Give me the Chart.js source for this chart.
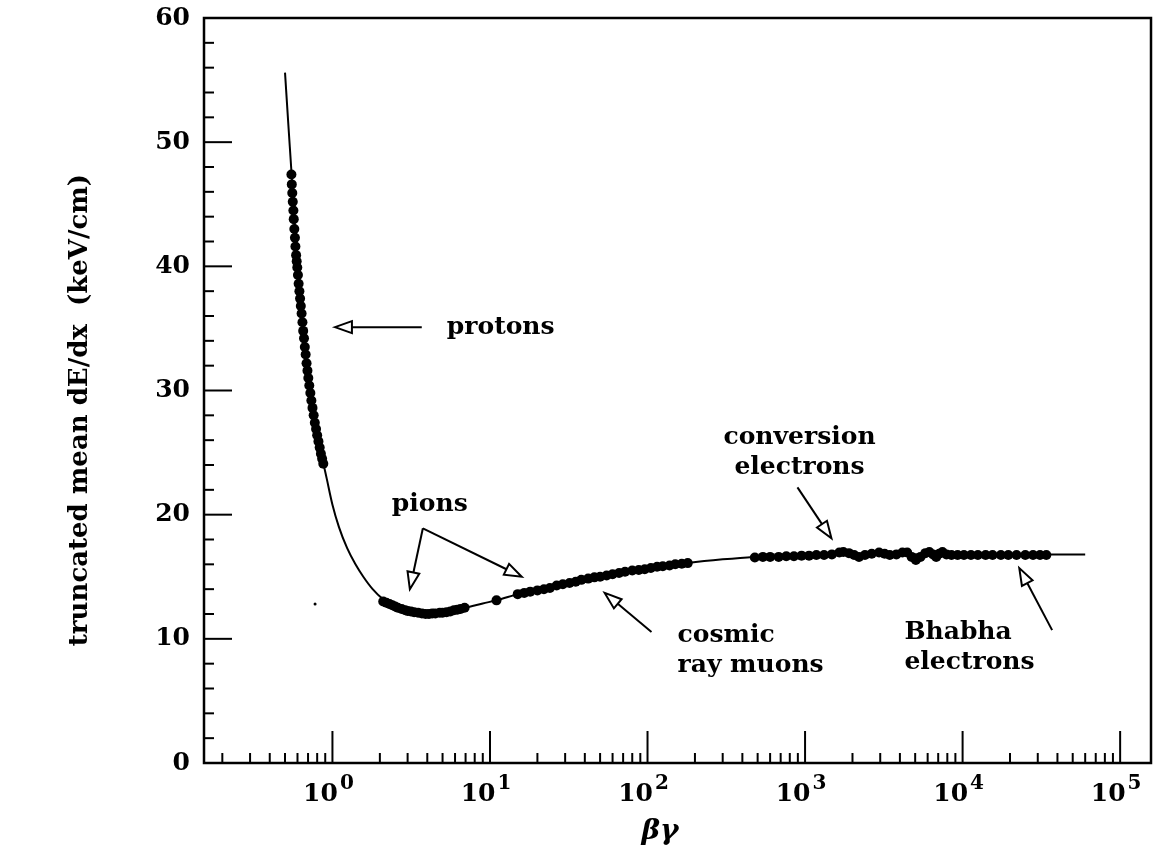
<!DOCTYPE html>
<html>
<head>
<meta charset="utf-8">
<title>truncated mean dE/dx vs βγ</title>
<script src="https://cdn.jsdelivr.net/npm/chart.js@4.4.1/dist/chart.umd.min.js"></script>
<style>
  html, body { margin: 0; padding: 0; background: #fff; }
  #wrap { width: 1156px; height: 857px; }
</style>
</head>
<body>
<div id="wrap"><canvas id="chart" width="1156" height="857"></canvas></div>
<script>
// expected curve, [βγ, dE/dx]
const curve = [
  [0.50, 55.6], [0.525, 51.4], [0.55, 47.5], [0.575, 43.6], [0.60, 40.2], [0.625, 37.3],
  [0.65, 34.9], [0.68, 32.6], [0.71, 30.6], [0.75, 28.6], [0.80, 26.6], [0.85, 24.9],
  [0.92, 22.9], [1.0, 20.8], [1.1, 19.0], [1.24, 17.3], [1.4, 16.0], [1.57, 15.0],
  [1.8, 14.0], [2.09, 13.2], [2.5, 12.6], [3.0, 12.25], [3.6, 12.1], [4.2, 12.05],
  [5.0, 12.15], [6.0, 12.35], [7.0, 12.5], [9.0, 12.85], [11, 13.1], [15, 13.6],
  [25, 14.3], [40, 14.85], [70, 15.4], [100, 15.65], [180, 16.1], [300, 16.4],
  [470, 16.6], [1000, 16.75], [3000, 16.8], [10000, 16.8], [60000, 16.8]
]

// measured points
const protons = [
  [0.549, 47.4], [0.552, 46.6], [0.556, 45.9], [0.56, 45.2], [0.565, 44.5], [0.568, 43.8],
  [0.573, 43.0], [0.578, 42.3], [0.582, 41.6], [0.588, 40.9], [0.593, 40.4], [0.598, 39.9],
  [0.604, 39.3], [0.61, 38.6], [0.617, 38.0], [0.623, 37.4], [0.63, 36.8], [0.637, 36.2],
  [0.645, 35.5], [0.652, 34.8], [0.66, 34.2], [0.668, 33.5], [0.676, 32.9], [0.685, 32.2],
  [0.694, 31.6], [0.703, 31.0], [0.713, 30.4], [0.724, 29.8], [0.735, 29.2], [0.747, 28.6],
  [0.76, 28.0], [0.773, 27.4], [0.787, 26.9], [0.80, 26.4], [0.815, 25.9], [0.83, 25.4],
  [0.845, 24.9], [0.86, 24.5], [0.875, 24.1]
]
const pions = [
  [2.1, 13.0], [2.2, 12.9], [2.3, 12.8], [2.4, 12.7], [2.5, 12.6], [2.6, 12.5], [2.75, 12.4],
  [2.9, 12.3], [3.0, 12.25], [3.15, 12.2], [3.3, 12.15], [3.5, 12.1], [3.7, 12.05], [3.9, 12.0],
  [4.1, 12.0], [4.3, 12.05], [4.5, 12.05], [4.8, 12.1], [5.0, 12.1], [5.3, 12.15], [5.6, 12.2],
  [5.9, 12.3], [6.2, 12.35], [6.5, 12.4], [6.9, 12.5], [11, 13.1]
]
const muons = [
  [15, 13.6], [16.5, 13.7], [18, 13.8], [20, 13.9], [22, 14.0], [24, 14.1], [26.5, 14.3],
  [29, 14.4], [32, 14.5], [35, 14.6], [38, 14.75], [42, 14.85], [46, 14.95], [50, 15.0],
  [55, 15.1], [60, 15.2], [66, 15.3], [72, 15.4], [80, 15.5], [88, 15.55], [96, 15.6],
  [105, 15.7], [115, 15.8], [125, 15.85], [138, 15.9], [150, 16.0], [165, 16.05], [180, 16.1]
]
const electrons = [
  [480, 16.55], [540, 16.6], [600, 16.6], [680, 16.6], [760, 16.65], [850, 16.65], [950, 16.7],
  [1060, 16.7], [1180, 16.75], [1320, 16.75], [1480, 16.8], [1650, 16.95], [1750, 17.0],
  [1900, 16.9], [2050, 16.75], [2200, 16.6], [2400, 16.75], [2650, 16.85], [2950, 16.95],
  [3200, 16.85], [3450, 16.75], [3800, 16.8], [4150, 16.95], [4450, 16.95], [4750, 16.6],
  [5050, 16.35], [5400, 16.6], [5800, 16.9], [6150, 17.0], [6500, 16.8], [6800, 16.6],
  [7100, 16.85], [7450, 17.0], [7900, 16.8], [8500, 16.75], [9300, 16.75], [10200, 16.75],
  [11300, 16.75], [12500, 16.75], [14000, 16.75], [15500, 16.75], [17500, 16.75],
  [19500, 16.75], [22000, 16.75], [25000, 16.75], [28000, 16.75], [31000, 16.75], [34000, 16.75]
]
// lone small point left of the minimum
const stray = [[0.776, 12.8]]

// axes
const xMin = 0.153, xMax = 157000
const yMin = 0, yMax = 60
const yTicks = [0, 10, 20, 30, 40, 50, 60]
const yMinorStep = 2
const xTickExps = [0, 1, 2, 3, 4, 5]
const xTitle = 'βγ'
const yTitle = 'truncated mean dE/dx  (keV/cm)'

// labels and arrows, in data coordinates
const notes = [
  { lines: ['protons'], at: [5.32, 35.1], align: 'left' },
  { lines: ['pions'], at: [4.15, 20.8], align: 'center' },
  { lines: ['cosmic', 'ray muons'], at: [155, 10.3], align: 'left' },
  { lines: ['conversion', 'electrons'], at: [922, 26.2], align: 'center' },
  { lines: ['Bhabha', 'electrons'], at: [4270, 10.5], align: 'left' }
]
const arrows = [
  { from: [3.69, 35.1], to: [1.037, 35.1] },
  { from: [3.75, 18.9], to: [3.1, 14.0] },
  { from: [3.75, 18.9], to: [15.9, 15.0] },
  { from: [106, 10.55], to: [53.5, 13.7] },
  { from: [895, 22.2], to: [1470, 18.1] },
  { from: [37000, 10.7], to: [22900, 15.7] }
]

const toXY = arr => arr.map(p => ({ x: p[0], y: p[1] }))
const SERIF = '"DejaVu Serif", "Liberation Serif", serif'

function drawArrow(ctx, x1, y1, x2, y2){
  const ang = Math.atan2(y2 - y1, x2 - x1)
  const L = 17, W = 6
  const bx = x2 - L * Math.cos(ang), by = y2 - L * Math.sin(ang)
  ctx.beginPath(); ctx.moveTo(x1, y1); ctx.lineTo(bx, by); ctx.stroke()
  ctx.beginPath()
  ctx.moveTo(x2, y2)
  ctx.lineTo(bx + W * Math.sin(ang), by - W * Math.cos(ang))
  ctx.lineTo(bx - W * Math.sin(ang), by + W * Math.cos(ang))
  ctx.closePath()
  ctx.fillStyle = '#fff'; ctx.fill(); ctx.stroke()
  ctx.fillStyle = '#000'
}

// frame, inward ticks, tick labels, titles and annotations
const framePlugin = {
  id: 'frame',
  afterDatasetsDraw(chart){
    const { ctx, chartArea: a, scales: { x, y } } = chart
    ctx.save()
    ctx.strokeStyle = '#000'; ctx.fillStyle = '#000'
    ctx.lineWidth = 2.5
    ctx.strokeRect(a.left, a.top, a.right - a.left, a.bottom - a.top)

    // y ticks
    ctx.lineWidth = 2
    for(let v = yMin; v <= yMax; v += yMinorStep){
      const py = y.getPixelForValue(v)
      const len = yTicks.includes(v) ? 28 : 10
      ctx.beginPath(); ctx.moveTo(a.left, py); ctx.lineTo(a.left + len, py); ctx.stroke()
    }
    ctx.font = 'bold 25px ' + SERIF
    ctx.textAlign = 'right'; ctx.textBaseline = 'middle'
    yTicks.forEach(v => ctx.fillText(String(v), a.left - 14, y.getPixelForValue(v)))

    // x ticks (log)
    for(let e = -1; e <= 5; e++){
      for(let m = 1; m <= 9; m++){
        const v = m * Math.pow(10, e)
        if(v < xMin || v > xMax) continue
        const px = x.getPixelForValue(v)
        const len = m === 1 ? 32 : 10
        ctx.beginPath(); ctx.moveTo(px, a.bottom); ctx.lineTo(px, a.bottom - len); ctx.stroke()
      }
    }
    const baseFont = 'bold 25px ' + SERIF, supFont = 'bold 20px ' + SERIF
    ctx.textBaseline = 'alphabetic'; ctx.textAlign = 'left'
    xTickExps.forEach(e => {
      const px = x.getPixelForValue(Math.pow(10, e))
      ctx.font = baseFont; const wb = ctx.measureText('10').width
      ctx.font = supFont; const ws = ctx.measureText(String(e)).width
      const x0 = px - (wb + ws + 2) / 2 - 4
      ctx.font = baseFont; ctx.fillText('10', x0, a.bottom + 38)
      ctx.font = supFont; ctx.fillText(String(e), x0 + wb + 2, a.bottom + 26)
    })

    // axis titles
    ctx.font = 'italic bold 28px ' + SERIF
    ctx.textAlign = 'center'
    ctx.fillText(xTitle, 660, a.bottom + 76)
    ctx.save()
    ctx.translate(80, 410); ctx.rotate(-Math.PI / 2)
    ctx.font = 'bold 26px ' + SERIF
    ctx.textBaseline = 'middle'
    ctx.fillText(yTitle, 0, 0)
    ctx.restore()

    // annotations
    ctx.font = 'bold 25px ' + SERIF
    ctx.textBaseline = 'middle'
    notes.forEach(n => {
      ctx.textAlign = n.align
      const px = x.getPixelForValue(n.at[0]), py = y.getPixelForValue(n.at[1])
      n.lines.forEach((t, i) => ctx.fillText(t, px, py + i * 30))
    })
    ctx.lineWidth = 2
    arrows.forEach(ar => {
      drawArrow(ctx, x.getPixelForValue(ar.from[0]), y.getPixelForValue(ar.from[1]),
        x.getPixelForValue(ar.to[0]), y.getPixelForValue(ar.to[1]))
    })
    ctx.restore()
  }
}

const dots = (data, r = 5) => ({
  data: toXY(data), showLine: false, pointRadius: r, pointHoverRadius: r,
  backgroundColor: '#000', borderWidth: 0, order: 1
})

new Chart(document.getElementById('chart').getContext('2d'), {
  type: 'scatter',
  data: {
    datasets: [
      { data: toXY(curve), showLine: true, borderColor: '#000', borderWidth: 2,
        pointRadius: 0, cubicInterpolationMode: 'monotone', order: 2 },
      dots(protons), dots(pions), dots(muons), dots(electrons), dots(stray, 1.5)
    ]
  },
  options: {
    responsive: false,
    animation: false,
    layout: { padding: { top: 18, right: 4, left: 0, bottom: 0 } },
    plugins: { legend: { display: false }, tooltip: { enabled: false } },
    scales: {
      x: {
        type: 'logarithmic', min: xMin, max: xMax,
        grid: { display: false }, ticks: { display: false },
        border: { display: false },
        afterFit: s => { s.height = 94 }
      },
      y: {
        type: 'linear', min: yMin, max: yMax,
        grid: { display: false }, ticks: { display: false },
        border: { display: false },
        afterFit: s => { s.width = 204 }
      }
    }
  },
  plugins: [framePlugin]
})
</script>
</body>
</html>
